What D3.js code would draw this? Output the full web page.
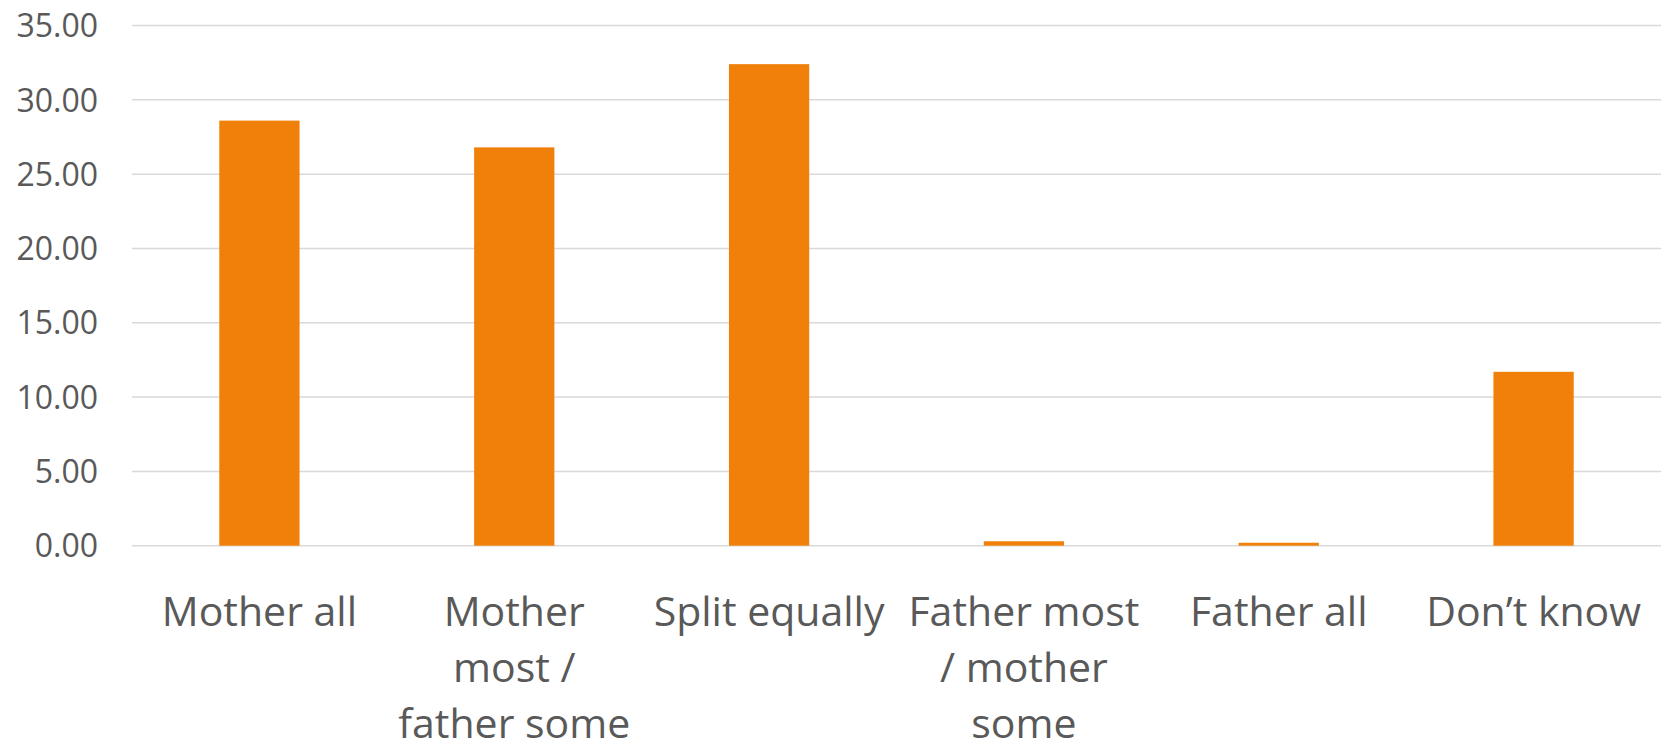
<!DOCTYPE html>
<html>
<head>
<meta charset="utf-8">
<script src="https://cdn.jsdelivr.net/npm/d3@7"></script>
<style>
  html, body { margin: 0; padding: 0; background: #fff; }
  svg { display: block; }
</style>
</head>
<body>
<svg id="chart" width="1661" height="742"></svg>
<script>
// Who does the share of the work: percentage of respondents per answer
const categories = [
  "Mother all",
  "Mother\nmost /\nfather some",
  "Split equally",
  "Father most\n/ mother\nsome",
  "Father all",
  "Don\u2019t know"
];
const values = [28.6, 26.8, 32.4, 0.3, 0.2, 11.7];
const yTicks = [0, 5, 10, 15, 20, 25, 30, 35];

const width = 1661, height = 742;
const margin = { top: 25.5, right: 0, bottom: 196.3, left: 132 };

const svg = d3.select("#chart");

const x = d3.scaleBand()
  .domain(categories)
  .range([margin.left, width - margin.right])
  .paddingInner(0.685)
  .paddingOuter(0.3425);

const y = d3.scaleLinear()
  .domain([0, 35])
  .range([height - margin.bottom, margin.top]);

// horizontal gridlines
svg.append("g")
  .selectAll("line")
  .data(yTicks)
  .join("line")
  .attr("x1", margin.left)
  .attr("x2", width - margin.right)
  .attr("y1", d => y(d))
  .attr("y2", d => y(d))
  .attr("stroke", "#d9d9d9")
  .attr("stroke-width", 1.5);

// y-axis labels
const yAxis = d3.axisLeft(y)
  .tickValues(yTicks)
  .tickFormat(d3.format(".2f"))
  .tickSize(0)
  .tickPadding(0);

svg.append("g")
  .attr("transform", `translate(${margin.left - 34},0)`)
  .call(yAxis)
  .call(g => g.select(".domain").remove())
  .call(g => g.selectAll("text")
    .attr("fill", "#595959")
    .attr("font-family", "'Open Sans', sans-serif")
    .attr("font-size", 32)
    .attr("dy", "0.35em"));

// bars
svg.append("g")
  .selectAll("rect")
  .data(values)
  .join("rect")
  .attr("x", (d, i) => x(categories[i]))
  .attr("width", x.bandwidth())
  .attr("y", d => y(d))
  .attr("height", d => y(0) - y(d))
  .attr("fill", "#f0800a");

// category labels, wrapped over several lines
const xAxis = d3.axisBottom(x).tickSize(0).tickFormat("");
const xg = svg.append("g")
  .attr("transform", `translate(0,${y(0)})`)
  .call(xAxis)
  .call(g => g.select(".domain").remove());

xg.selectAll(".tick").each(function(d) {
  const t = d3.select(this).append("text")
    .attr("fill", "#595959")
    .attr("font-family", "'Open Sans', sans-serif")
    .attr("font-size", 41)
    .attr("text-anchor", "middle");
  d.split("\n").forEach((line, i) => {
    t.append("tspan")
      .attr("x", 0)
      .attr("y", 66 + i * 56)
      .attr("dy", "0.35em")
      .text(line);
  });
});
</script>
</body>
</html>
